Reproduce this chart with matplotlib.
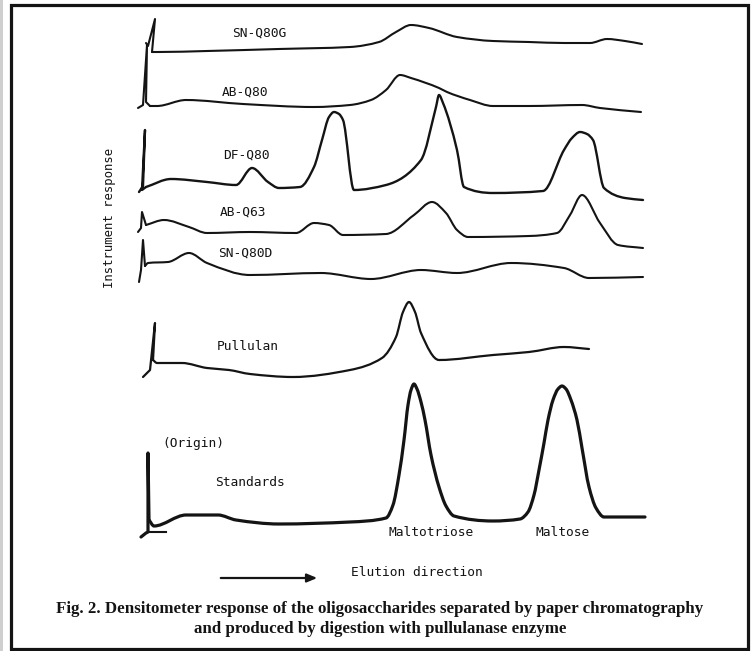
import matplotlib
matplotlib.use("Agg")
import numpy as np
import matplotlib.pyplot as plt
from matplotlib.patches import Rectangle, PathPatch
from matplotlib.path import Path

# ---------------- data (elution position, instrument response) -------------
sn_q80g_x = [146, 148, 155, 152, 158, 207, 279, 350, 379, 396, 411, 429, 457, 493, 529, 564, 590, 607, 625, 642]
sn_q80g_y = [43, 46, 19, 52, 52, 51, 49, 47, 42, 32, 25, 28, 37, 41, 42, 43, 43, 39, 41, 44]

ab_q80_x = [138, 143, 147, 146, 150, 157, 186, 243, 314, 350, 371, 386, 400, 411, 439, 447, 470, 493, 529, 582, 600, 641]
ab_q80_y = [108, 105, 45, 102, 106, 106, 100, 104, 107, 105, 100, 90, 75, 78, 88, 92, 100, 106, 106, 105, 108, 112]

df_q80_x = [139, 143, 145, 142, 146, 171, 207, 236, 252, 268, 279, 300, 314, 322, 329, 334, 339, 343, 354, 386,
            421, 436, 439, 443, 457, 464, 493, 543, 564, 572, 580, 587, 593, 604, 625, 643]
df_q80_y = [192, 186, 130, 190, 187, 179, 182, 185, 168, 182, 188, 187, 167, 140, 117, 112, 114, 120, 190, 185,
            160, 107, 95, 103, 150, 187, 193, 191, 150, 138, 132, 134, 140, 188, 198, 200]

ab_q63_x = [138, 141, 142, 146, 164, 189, 207, 250, 296, 314, 329, 343, 386, 414, 432, 446, 457, 468, 529, 557,
            570, 582, 600, 618, 643]
ab_q63_y = [232, 228, 212, 225, 220, 227, 233, 232, 233, 223, 225, 235, 234, 215, 202, 213, 230, 237, 236, 233,
            215, 195, 223, 245, 248]

sn_q80d_x = [139, 141, 143, 145, 148, 168, 189, 207, 250, 321, 371, 421, 457, 511, 564, 589, 643]
sn_q80d_y = [282, 270, 240, 266, 263, 262, 253, 263, 275, 273, 279, 270, 273, 263, 268, 278, 277]

pullulan_x = [143, 150, 155, 153, 157, 182, 207, 229, 250, 293, 350, 382, 396, 403, 409, 415, 421, 439, 493, 529, 564, 589]
pullulan_y = [377, 370, 323, 360, 363, 363, 368, 370, 374, 377, 370, 358, 337, 312, 302, 312, 333, 360, 355, 352, 347, 349]

standards_x = [141, 146, 148, 148, 149, 154, 186, 218, 236, 279, 350, 386, 393, 399, 404, 408, 411, 414, 417, 421,
               425, 431, 439, 446, 454, 493, 520, 528, 534, 539, 544, 548, 553, 558, 562, 566, 571, 577, 582, 589,
               596, 604, 645]
standards_y = [537, 533, 532, 453, 520, 526, 515, 515, 520, 524, 522, 518, 505, 475, 440, 405, 390, 384, 389, 402,
               420, 455, 487, 506, 516, 521, 519, 512, 495, 470, 443, 420, 400, 389, 386, 389, 400, 420, 448, 487,
               508, 517, 517]

origin_mark_x = [148, 166]
origin_mark_y = [532, 532]

trace_labels = ["SN-Q80G", "AB-Q80", "DF-Q80", "AB-Q63", "SN-Q80D", "Pullulan", "Standards"]
peak_labels = ["Maltotriose", "Maltose"]
y_label = "Instrument response"
x_label = "Elution direction"
origin_label = "(Origin)"
caption_lines = ["Fig. 2. Densitometer response of the oligosaccharides separated by paper chromatography",
                 "and produced by digestion with pullulanase enzyme"]

# ---------------- figure ----------------
W, H = 755, 651
fig = plt.figure(figsize=(W / 100, H / 100), dpi=100)
ax = fig.add_axes([0, 0, 1, 1])
ax.set_xlim(0, W)
ax.set_ylim(H, 0)
ax.axis("off")

ink = "#141414"
mono = "DejaVu Sans Mono"


def smooth_path(xs, ys):
    """Monotone cubic (PCHIP-style) Bezier path through the given points (pen-recorder look)."""
    x = np.asarray(xs, float)
    y = np.asarray(ys, float)
    n = len(x)
    h = np.diff(x)
    d = np.diff(y) / h
    m = np.zeros(n)
    for i in range(1, n - 1):
        if d[i - 1] * d[i] > 0:
            w1 = 2 * h[i] + h[i - 1]
            w2 = h[i] + 2 * h[i - 1]
            m[i] = (w1 + w2) / (w1 / d[i - 1] + w2 / d[i])
    m[0] = d[0]
    m[-1] = d[-1]
    verts = [(x[0], y[0])]
    codes = [Path.MOVETO]
    for i in range(n - 1):
        dx = h[i] / 3.0
        verts += [(x[i] + dx, y[i] + m[i] * dx), (x[i + 1] - dx, y[i + 1] - m[i + 1] * dx), (x[i + 1], y[i + 1])]
        codes += [Path.CURVE4] * 3
    return Path(verts, codes)


# scan edge + frame
ax.add_patch(Rectangle((0, 0), 2.5, H, color="#cfcfcf", lw=0))
ax.add_patch(Rectangle((11, 5), 737, 644, fill=False, ec=ink, lw=2.3))

# (x, y, linewidth, number of leading points forming the sharp origin spike)
traces = [
    (sn_q80g_x, sn_q80g_y, 1.5, 4),
    (ab_q80_x, ab_q80_y, 1.5, 5),
    (df_q80_x, df_q80_y, 1.7, 5),
    (ab_q63_x, ab_q63_y, 1.5, 4),
    (sn_q80d_x, sn_q80d_y, 1.5, 4),
    (pullulan_x, pullulan_y, 1.6, 4),
    (standards_x, standards_y, 2.3, 5),
]
for xs, ys, lw, ns in traces:
    ax.plot(xs[:ns], ys[:ns], color=ink, lw=lw, solid_joinstyle="round", solid_capstyle="round")
    ax.add_patch(PathPatch(smooth_path(xs[ns - 1:], ys[ns - 1:]), fill=False, ec=ink, lw=lw,
                           joinstyle="round", capstyle="round"))
ax.plot(origin_mark_x, origin_mark_y, color=ink, lw=1.5)

label_pos = [(259, 33), (245, 92), (246, 155), (243, 212), (245, 253), (248, 346), (250, 482)]
for txt, (x, y) in zip(trace_labels, label_pos):
    ax.text(x, y, txt, fontsize=9.3, family=mono, color=ink, ha="center", va="center")

ax.text(193, 444, origin_label, fontsize=9.3, family=mono, color=ink, ha="center", va="center")
ax.text(431, 533, peak_labels[0], fontsize=9.3, family=mono, color=ink, ha="center", va="center")
ax.text(563, 533, peak_labels[1], fontsize=9.3, family=mono, color=ink, ha="center", va="center")
ax.text(417, 572, x_label, fontsize=9.3, family=mono, color=ink, ha="center", va="center")
ax.text(110, 218, y_label, fontsize=8.8, family=mono, color=ink, ha="center", va="center", rotation=90)

ax.annotate("", xy=(320, 578), xytext=(218, 578),
            arrowprops=dict(arrowstyle="-|>,head_length=0.6,head_width=0.25", color=ink, lw=1.6))

ax.text(380, 609, caption_lines[0], fontsize=12.2, family="Liberation Serif", weight="bold",
        color=ink, ha="center", va="center")
ax.text(380, 629, caption_lines[1], fontsize=12.2, family="Liberation Serif", weight="bold",
        color=ink, ha="center", va="center")

fig.savefig("out.png", dpi=100)
